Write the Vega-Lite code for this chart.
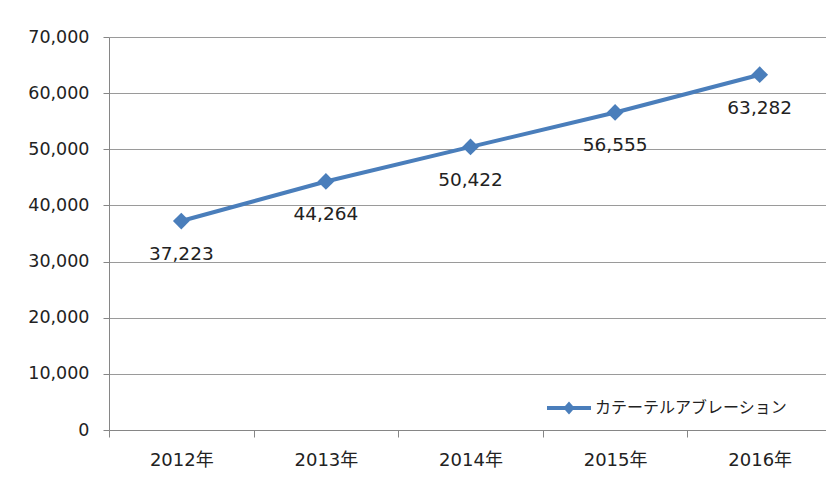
{
  "$schema": "https://vega.github.io/schema/vega-lite/v6.json",
  "autosize": {"type": "none"},
  "padding": {"left": 109, "top": 37, "right": 0, "bottom": 49},
  "width": 723,
  "height": 393,
  "background": "white",
  "config": {
    "view": {"stroke": null},
    "font": "DejaVu Sans, Noto Sans CJK JP",
    "axis": {"labelFont": "DejaVu Sans, Noto Sans CJK JP", "labelColor": "#222222", "labelFontSize": 17.5}
  },
  "data": {
    "values": [
      {"year": "2012年", "value": 37223, "series": "カテーテルアブレーション"},
      {"year": "2013年", "value": 44264, "series": "カテーテルアブレーション"},
      {"year": "2014年", "value": 50422, "series": "カテーテルアブレーション"},
      {"year": "2015年", "value": 56555, "series": "カテーテルアブレーション"},
      {"year": "2016年", "value": 63282, "series": "カテーテルアブレーション"}
    ]
  },
  "encoding": {
    "x": {
      "field": "year", "type": "nominal", "sort": null,
      "scale": {"paddingInner": 0, "paddingOuter": 0},
      "axis": {
        "title": null, "labelAngle": 0, "tickBand": "extent", "tickSize": 7,
        "tickColor": "#868686", "domainColor": "#868686", "grid": false,
        "labelPadding": 14, "labelFontSize": 18
      }
    },
    "y": {
      "field": "value", "type": "quantitative",
      "scale": {"domain": [0, 70000], "nice": false},
      "axis": {
        "title": null, "values": [0, 10000, 20000, 30000, 40000, 50000, 60000, 70000],
        "format": ",d", "tickSize": 6, "tickColor": "#868686", "domainColor": "#868686",
        "gridColor": "#9a9a9a", "labelPadding": 14
      }
    }
  },
  "layer": [
    {
      "mark": {"type": "line", "strokeWidth": 4},
      "encoding": {
        "color": {
          "field": "series", "type": "nominal",
          "scale": {"range": ["#4A7EBB"]},
          "legend": {
            "title": null, "orient": "none", "legendX": 436, "legendY": 347,
            "symbolType": "M-1,0H1M0,-0.16L0.14,0L0,0.16L-0.14,0Z",
            "symbolSize": 1936, "symbolStrokeWidth": 4, "symbolStrokeColor": "#4A7EBB",
            "symbolFillColor": "#4A7EBB",
            "labelFontSize": 16, "labelColor": "#222222", "labelFont": "Noto Sans CJK JP",
            "labelOffset": 2, "labelLimit": 400
          }
        }
      }
    },
    {
      "mark": {"type": "point", "shape": "diamond", "filled": true, "size": 280, "opacity": 1, "color": "#4A7EBB"}
    },
    {
      "mark": {"type": "text", "dy": 33, "fontSize": 18.5, "color": "#222222"},
      "encoding": {"text": {"field": "value", "type": "quantitative", "format": ",d"}}
    }
  ]
}
